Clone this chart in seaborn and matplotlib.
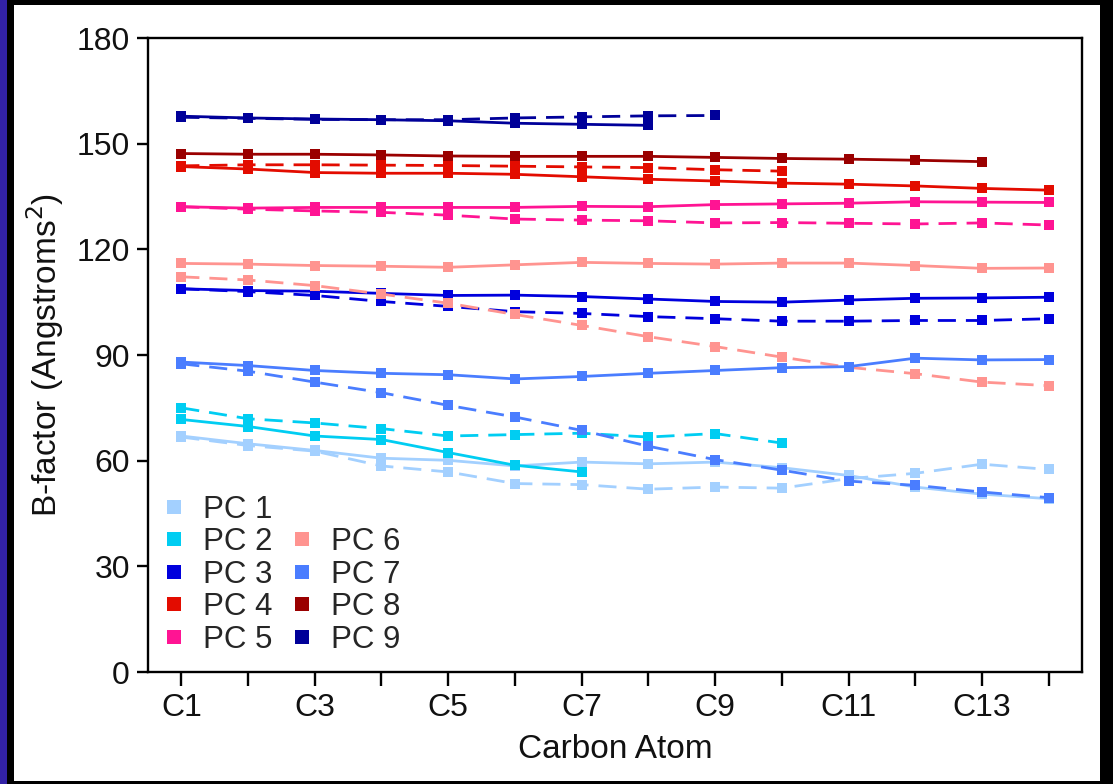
import matplotlib
matplotlib.use("Agg")
import matplotlib.pyplot as plt
from matplotlib.lines import Line2D
from matplotlib.patches import Rectangle
import seaborn as sns
import pandas as pd
import numpy as np

# Carbon positions
atoms = ["C1", "C2", "C3", "C4", "C5", "C6", "C7", "C8", "C9", "C10", "C11", "C12", "C13", "C14"]
tick_labels = [a if i % 2 == 0 else "" for i, a in enumerate(atoms)]

# B-factor values (solid and dashed curves per PC)
pc1_solid = [67.0, 64.8, 62.9, 60.7, 60.1, 58.5, 59.6, 59.1, 59.6, 58.0, 55.8, 52.5, 50.5, 49.2]
pc1_dash = [66.7, 64.3, 62.7, 58.5, 56.8, 53.5, 53.2, 51.9, 52.5, 52.2, 54.9, 56.4, 59.0, 57.5]
pc2_solid = [71.7, 69.7, 67.0, 66.0, 62.3, 58.7, 56.8]
pc2_dash = [75.0, 71.9, 70.7, 69.1, 67.0, 67.4, 67.8, 66.7, 67.7, 65.0]
pc3_solid = [108.8, 108.3, 108.1, 107.5, 106.9, 107.0, 106.6, 105.9, 105.2, 105.0, 105.6, 106.1, 106.2, 106.4]
pc3_dash = [108.8, 108.0, 106.9, 105.2, 103.8, 102.3, 101.8, 100.9, 100.3, 99.6, 99.6, 99.8, 99.8, 100.3]
pc4_solid = [143.5, 142.8, 141.8, 141.6, 141.6, 141.3, 140.6, 139.9, 139.4, 138.8, 138.5, 138.0, 137.3, 136.8]
pc4_dash = [143.7, 144.0, 144.0, 143.9, 143.8, 143.6, 143.4, 143.2, 142.6, 142.2]
pc5_solid = [132.1, 131.7, 131.9, 131.9, 131.9, 131.9, 132.2, 132.1, 132.7, 132.9, 133.1, 133.5, 133.4, 133.3]
pc5_dash = [132.1, 131.4, 130.9, 130.5, 129.7, 128.6, 128.3, 128.1, 127.5, 127.6, 127.4, 127.2, 127.5, 126.9]
pc6_solid = [116.0, 115.8, 115.4, 115.2, 114.9, 115.6, 116.3, 116.0, 115.8, 116.1, 116.1, 115.4, 114.6, 114.7]
pc6_dash = [112.2, 111.3, 109.7, 107.3, 104.7, 101.5, 98.4, 95.2, 92.4, 89.4, 86.5, 84.7, 82.3, 81.3]
pc7_solid = [88.0, 87.0, 85.6, 84.8, 84.4, 83.2, 83.9, 84.8, 85.6, 86.4, 86.7, 89.1, 88.6, 88.7]
pc7_dash = [87.5, 85.4, 82.3, 79.3, 75.7, 72.4, 68.6, 64.1, 60.3, 57.3, 54.2, 53.0, 51.1, 49.5]
pc8_solid = [147.2, 147.0, 147.0, 146.8, 146.5, 146.4, 146.4, 146.4, 146.1, 145.8, 145.6, 145.3, 144.9]
pc9_solid = [157.8, 157.3, 157.0, 156.8, 156.5, 155.8, 155.5, 155.2]
pc9_dash = [157.5, 157.2, 156.9, 156.8, 156.8, 157.3, 157.6, 157.9, 158.0]

pc_names = ["PC 1", "PC 2", "PC 3", "PC 4", "PC 5", "PC 6", "PC 7", "PC 8", "PC 9"]
pc_colors = ["#a3d0ff", "#00cdf2", "#0000dd", "#e30c00", "#ff1493",
             "#ff9490", "#4a7dff", "#9a0000", "#000099"]

series = [
    (pc1_solid, pc1_dash), (pc2_solid, pc2_dash), (pc3_solid, pc3_dash),
    (pc4_solid, pc4_dash), (pc5_solid, pc5_dash), (pc6_solid, pc6_dash),
    (pc7_solid, pc7_dash), (pc8_solid, None), (pc9_solid, pc9_dash),
]

sns.set_theme(style="white")
plt.rcParams["font.family"] = ["Liberation Sans", "DejaVu Sans"]

fig = plt.figure(figsize=(11.13, 7.84), dpi=100)
fig.patch.set_facecolor("black")
# white page with a dark frame and purple strip on the left
fig.patches.append(Rectangle((14 / 1113, 3 / 784), (1100 - 14) / 1113, (779 - 3) / 784,
                             transform=fig.transFigure, facecolor="white", edgecolor="none", zorder=-2))
fig.patches.append(Rectangle((0, 0), 7 / 1113, 1, transform=fig.transFigure,
                             facecolor="#3322a6", edgecolor="none", zorder=-2))

ax = fig.add_axes([148 / 1113, 112 / 784, 934 / 1113, 634 / 784])
ax.set_facecolor("white")

for name, color, (solid, dash) in zip(pc_names, pc_colors, series):
    sns.lineplot(x=np.arange(len(solid)), y=solid, color=color, marker="s", markersize=6.5,
                 markeredgewidth=0, linewidth=2.0, ax=ax)
    if dash is not None:
        line = sns.lineplot(x=np.arange(len(dash)), y=dash, color=color, marker="s", markersize=6.5,
                            markeredgewidth=0, linewidth=2.0, ax=ax)
        line.lines[-1].set_dashes([6.5, 3.6])

ax.set_xlim(-0.5, 13.5)
ax.set_ylim(0, 180)
ax.set_xticks(range(len(atoms)))
ax.set_xticklabels(tick_labels)
ax.set_yticks([0, 30, 60, 90, 120, 150, 180])

for s in ax.spines.values():
    s.set_linewidth(1.7)
    s.set_color("black")
ax.tick_params(axis="both", direction="out", length=8, width=1.7, color="black",
               labelsize=23, labelcolor="#111111", bottom=True, left=True)
ax.tick_params(axis="x", length=10, pad=5)
ax.tick_params(axis="y", pad=5)

ax.set_xlabel("Carbon Atom", fontsize=24, labelpad=8, color="#111111")
ax.set_ylabel("B-factor (Angstroms$^2$)", fontsize=24, color="#111111")
ax.yaxis.set_label_coords(-0.088, 0.5)

# legend: PC 1-5 in column one, PC 6-9 in column two starting one row down
handles = [Line2D([], [], linestyle="none", marker="s", markersize=10.5, markeredgewidth=0, color=c)
           for c in pc_colors]
blank = Line2D([], [], linestyle="none", marker=None)
leg_handles = handles[:5] + [blank] + handles[5:]
leg_labels = pc_names[:5] + [""] + pc_names[5:]
leg = ax.legend(leg_handles, leg_labels, ncol=2, loc="lower left", bbox_to_anchor=(0.0, 0.0),
                frameon=False, fontsize=22.5, handlelength=0.56, handletextpad=0.65,
                labelspacing=0.08, columnspacing=0.65, borderaxespad=0.15, borderpad=0.4)

fig.savefig("out.png", dpi=100, facecolor=fig.get_facecolor())
